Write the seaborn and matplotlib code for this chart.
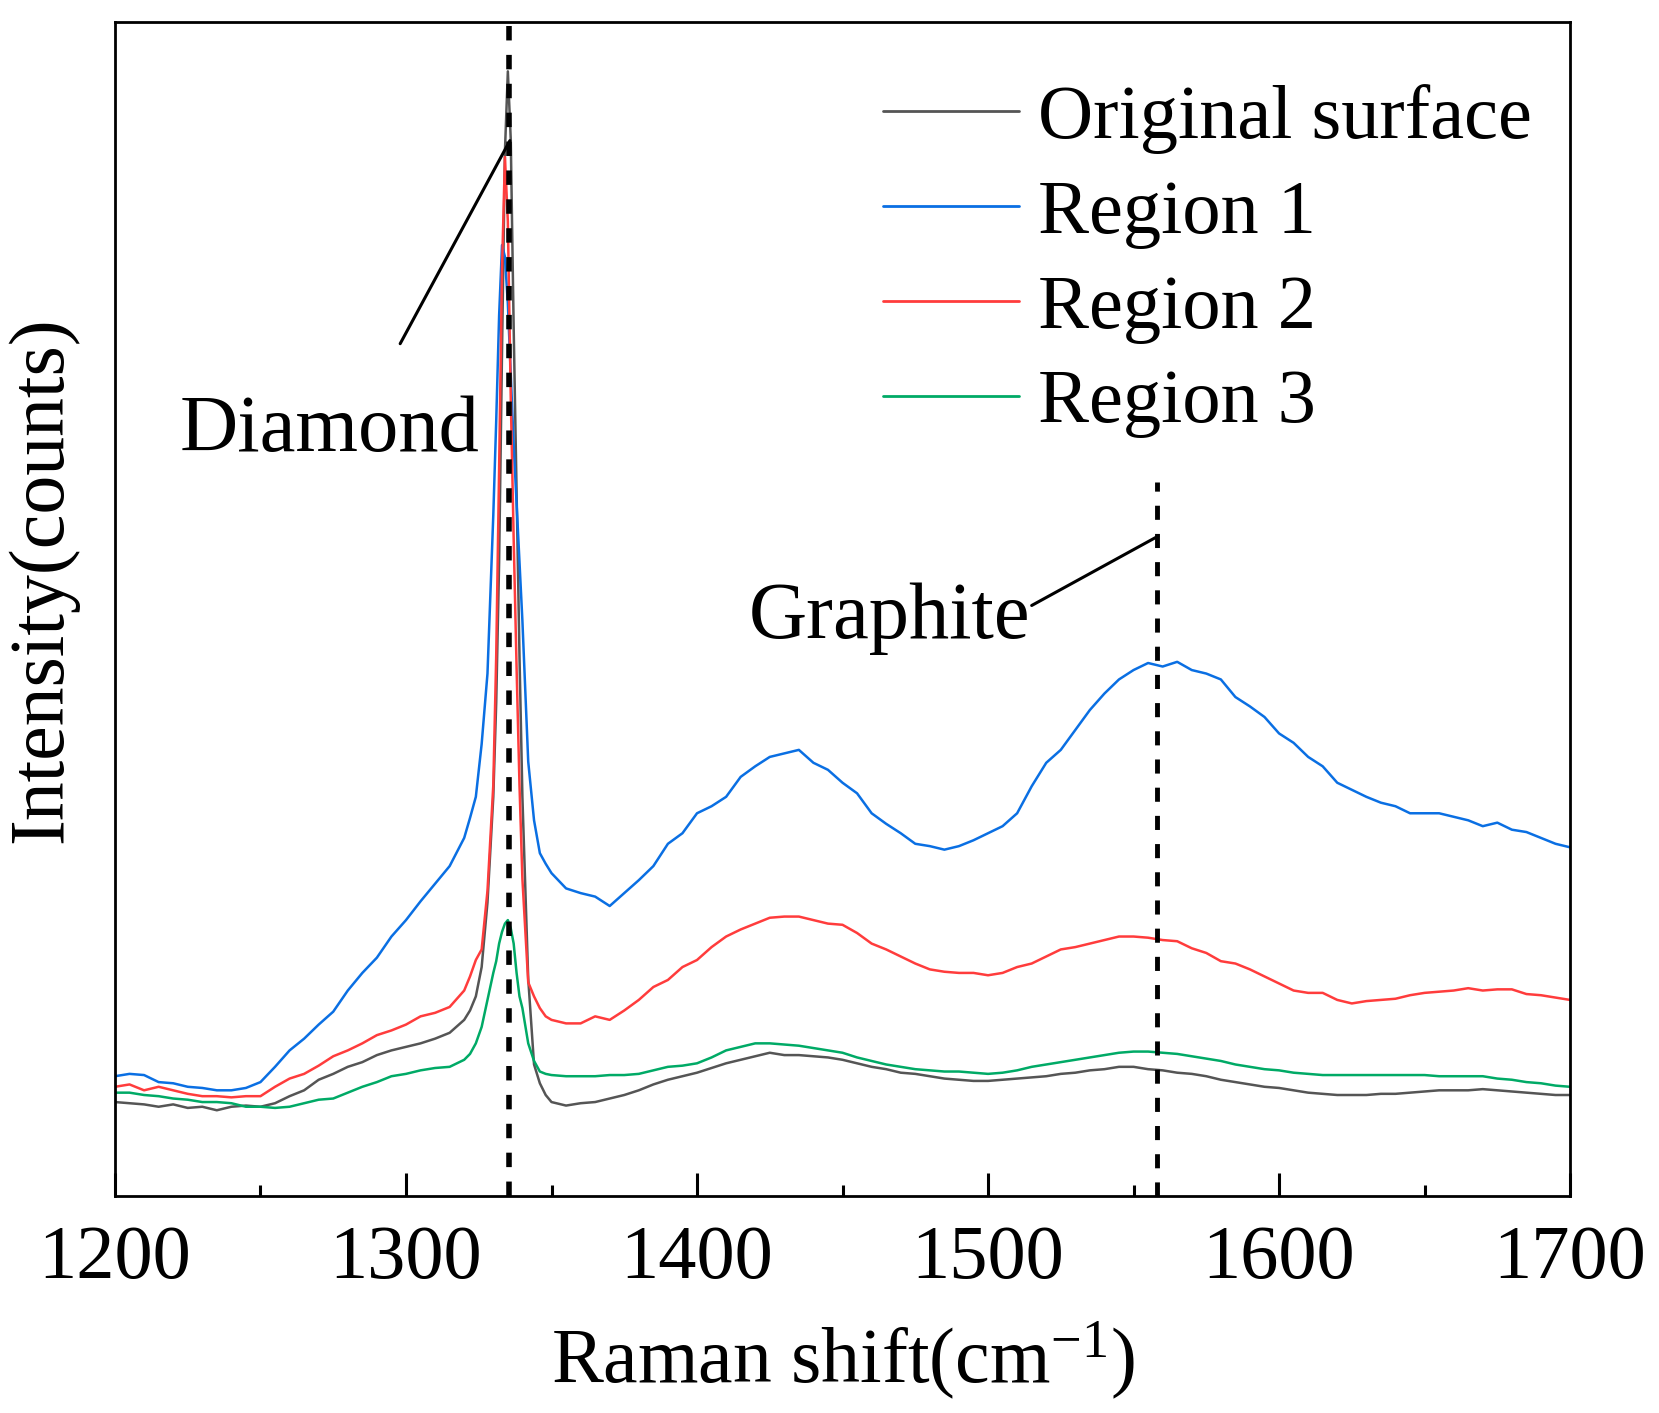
import matplotlib
matplotlib.use("Agg")
import matplotlib.pyplot as plt
from matplotlib.lines import Line2D
import numpy as np
import pandas as pd
import seaborn as sns

# Raman shift (cm-1), denser around the diamond peak
raman_shift = [
    1200, 1205, 1210, 1215, 1220, 1225, 1230, 1235, 1240, 1245, 1250, 1255, 1260,
    1265, 1270, 1275, 1280, 1285, 1290, 1295, 1300, 1305, 1310, 1315, 1320,
    1322, 1324, 1326, 1328, 1330, 1331, 1332, 1333, 1334, 1335, 1336, 1337, 1338,
    1339, 1340, 1342, 1344, 1346, 1348,
    1350, 1355, 1360, 1365, 1370, 1375, 1380, 1385, 1390, 1395,
    1400, 1405, 1410, 1415, 1420, 1425, 1430, 1435, 1440, 1445,
    1450, 1455, 1460, 1465, 1470, 1475, 1480, 1485, 1490, 1495,
    1500, 1505, 1510, 1515, 1520, 1525, 1530, 1535, 1540, 1545,
    1550, 1555, 1560, 1565, 1570, 1575, 1580, 1585, 1590, 1595,
    1600, 1605, 1610, 1615, 1620, 1625, 1630, 1635, 1640, 1645,
    1650, 1655, 1660, 1665, 1670, 1675, 1680, 1685, 1690, 1695,
    1700,
]

# intensities (arbitrary counts)
original_surface = [
    80, 79, 78, 76, 78, 75, 76, 73, 76, 77, 76, 79, 85, 90, 99, 104, 110, 114, 120, 124, 127, 130, 134, 139, 150,
    158, 170, 195, 250, 340, 420, 540, 720, 890, 958, 900, 740, 600, 460, 340, 185, 112, 96, 86,
    80, 77, 79, 80, 83, 86, 90, 95, 99, 102,
    105, 109, 113, 116, 119, 122, 120, 120, 119, 118,
    116, 113, 110, 108, 105, 104, 102, 100, 99, 98,
    98, 99, 100, 101, 102, 104, 105, 107, 108, 110,
    110, 108, 107, 105, 104, 102, 99, 97, 95, 93,
    92, 90, 88, 87, 86, 86, 86, 87, 87, 88,
    89, 90, 90, 90, 91, 90, 89, 88, 87, 86,
    86,
]
region_1 = [
    102, 104, 103, 97, 96, 93, 92, 90, 90, 92, 97, 110, 124, 134, 146, 157, 175, 190, 203, 221, 235, 251, 266, 281, 305,
    322, 340, 385, 445, 580, 660, 750, 810, 800, 760, 700, 640, 590, 540, 490, 370, 320, 292, 283,
    275, 262, 258, 255, 247, 258, 269, 281, 300, 309,
    326, 332, 340, 357, 366, 374, 377, 380, 369, 363,
    352, 343, 326, 317, 309, 300, 298, 295, 298, 303,
    309, 315, 326, 349, 369, 380, 397, 414, 428, 440,
    448, 454, 451, 455, 448, 445, 440, 425, 417, 408,
    394, 386, 374, 366, 352, 346, 340, 335, 332, 326,
    326, 326, 323, 320, 315, 318, 312, 310, 305, 300,
    297,
]
region_2 = [
    93, 95, 90, 93, 90, 87, 85, 85, 84, 85, 85, 93, 100, 104, 111, 119, 124, 130, 137, 141, 146, 153, 156, 161, 175,
    187, 201, 210, 260, 350, 460, 620, 790, 885, 830, 680, 560, 450, 350, 270, 182, 170, 160, 153,
    150, 147, 147, 153, 150, 158, 167, 178, 184, 195,
    201, 212, 221, 227, 232, 237, 238, 238, 235, 232,
    231, 224, 215, 210, 204, 198, 193, 191, 190, 190,
    188, 190, 195, 198, 204, 210, 212, 215, 218, 221,
    221, 220, 218, 217, 211, 207, 200, 198, 193, 187,
    181, 175, 173, 173, 167, 164, 166, 167, 168, 171,
    173, 174, 175, 177, 175, 176, 176, 172, 171, 169,
    167,
]
region_3 = [
    88, 88, 86, 85, 83, 82, 80, 80, 79, 76, 76, 75, 76, 79, 82, 83, 88, 93, 97, 102, 104, 107, 109, 110, 116,
    121, 130, 144, 167, 190, 200, 215, 225, 232, 235, 228, 215, 190, 170, 160, 130, 115, 106, 104,
    103, 102, 102, 102, 103, 103, 104, 107, 110, 111,
    113, 118, 124, 127, 130, 130, 129, 128, 126, 124,
    122, 118, 115, 112, 110, 108, 107, 106, 106, 105,
    104, 105, 107, 110, 112, 114, 116, 118, 120, 122,
    123, 123, 122, 121, 119, 117, 115, 112, 110, 108,
    107, 105, 104, 103, 103, 103, 103, 103, 103, 103,
    103, 102, 102, 102, 102, 100, 99, 97, 96, 94,
    93,
]

labels = ["Original surface", "Region 1", "Region 2", "Region 3"]
colors = ["#555555", "#0a6fe3", "#ff3c3c", "#00aa66"]

diamond_peak = 1335.5
graphite_peak = 1558

sns.set_theme(style="white")
plt.rcParams["font.family"] = ["Liberation Serif", "DejaVu Serif"]
plt.rcParams["mathtext.fontset"] = "custom"
plt.rcParams["mathtext.rm"] = "Liberation Serif"
plt.rcParams["mathtext.it"] = "Liberation Serif:italic"
plt.rcParams["mathtext.bf"] = "Liberation Serif:bold"
plt.rcParams["text.color"] = "black"
plt.rcParams["axes.labelcolor"] = "black"
plt.rcParams["xtick.color"] = "black"
plt.rcParams["ytick.color"] = "black"

frames = []
for name, vals in zip(labels, [original_surface, region_1, region_2, region_3]):
    frames.append(pd.DataFrame({"shift": raman_shift, "intensity": vals, "sample": name}))
df = pd.concat(frames, ignore_index=True)

fig = plt.figure(figsize=(16.59, 14.13), dpi=100)
ax = fig.add_axes([0.0693, 0.1536, 0.8771, 0.8308])

sns.lineplot(data=df, x="shift", y="intensity", hue="sample", hue_order=labels,
             palette=colors, linewidth=1.8, estimator=None, legend=False, ax=ax)

# peak markers
ax.axvline(diamond_peak, color="black", lw=4, ls=(0, (2.6, 2.6)), zorder=5)
ax.plot([graphite_peak, graphite_peak], [0, 608], color="black", lw=3.5,
        ls=(0, (2.9, 2.9)), zorder=5)

# leader lines + labels
ax.plot([1298, 1335.7], [726, 899], color="black", lw=2.2)
ax.plot([1515, 1558.4], [503, 562], color="black", lw=2.2)
ax.text(1273.9, 635, "Diamond", fontsize=58, ha="center", va="baseline")
ax.text(1466.3, 475, "Graphite", fontsize=58, ha="center", va="baseline")

ax.set_xlim(1200, 1700)
ax.set_ylim(0, 1000)
ax.set_xticks([1200, 1300, 1400, 1500, 1600, 1700])
ax.set_xticks([1250, 1350, 1450, 1550, 1650], minor=True)
ax.set_yticks([])
ax.tick_params(axis="x", which="major", direction="in", length=16.5, width=2.2,
               labelsize=55, pad=21, bottom=True, top=False, color="black",
               labelcolor="black")
ax.tick_params(axis="x", which="minor", direction="in", length=8, width=2.2,
               bottom=True, top=False, color="black")
for s in ax.spines.values():
    s.set_linewidth(2)
    s.set_color("black")

ax.set_xlabel(r"Raman shift(cm$^{-1}$)", fontsize=56)
ax.xaxis.set_label_coords(0.5, -0.105)
ax.set_ylabel("Intensity(counts)", fontsize=56, va="center")
ax.yaxis.set_label_coords(-0.05, 0.525)

handles = [Line2D([], [], color=c, lw=2) for c in colors]
ax.legend(handles, labels, loc="upper left", bbox_to_anchor=(0.528, 0.947),
          frameon=False, fontsize=55, handlelength=1.78, handletextpad=0.25,
          labelspacing=0.33, borderpad=0, borderaxespad=0)

fig.savefig("out.png", dpi=100)
